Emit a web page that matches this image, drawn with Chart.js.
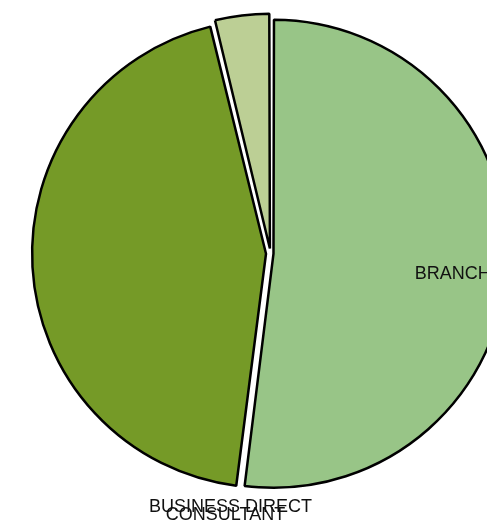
<!DOCTYPE html>
<html>
<head>
<meta charset="utf-8">
<script src="https://cdn.jsdelivr.net/npm/chart.js@4"></script>
<style>
html, body { margin: 0; padding: 0; background: #fff; overflow: hidden; }
#wrap { width: 541px; height: 527px; }
</style>
</head>
<body>
<div id="wrap"><canvas id="canvas" width="541" height="527"></canvas></div>
<script>
const channels = ['BRANCH', 'CONSULTANT', 'BUSINESS DIRECT'];
const shares = [52.0, 44.2, 3.8];
const sliceColors = ['#98c587', '#759a27', '#bccf95'];
const sliceOffsets = [12, 18, 20];

// labels: BRANCH sits inside its slice, the two others end up stacked under the pie
const sliceLabels = {
  id: 'sliceLabels',
  afterDraw(chart) {
    const ctx = chart.ctx;
    const arcs = chart.getDatasetMeta(0).data;
    ctx.save();
    ctx.font = '18px "Liberation Sans", Arial, sans-serif';
    ctx.fillStyle = '#111';
    ctx.textAlign = 'center';
    ctx.textBaseline = 'top';

    const a = arcs[0];
    const mid = (a.startAngle + a.endAngle) / 2;
    const d = a.outerRadius * 0.79;
    ctx.fillText(channels[0], a.x + Math.cos(mid) * d, a.y + Math.sin(mid) * d);

    const c = arcs[1];
    ctx.fillText(channels[2], c.x - 40, c.y + c.outerRadius + 14);
    ctx.fillText(channels[1], c.x - 45, c.y + c.outerRadius + 22);
    ctx.restore();
  }
};

new Chart(document.getElementById('canvas').getContext('2d'), {
  type: 'pie',
  data: {
    labels: channels,
    datasets: [{
      data: shares,
      backgroundColor: sliceColors,
      borderColor: '#000',
      borderWidth: 2.5,
      offset: sliceOffsets,
      radius: 231
    }]
  },
  options: {
    responsive: false,
    animation: false,
    layout: { padding: { bottom: 20 } },
    plugins: {
      legend: { display: false },
      tooltip: { enabled: false }
    }
  },
  plugins: [sliceLabels]
});
</script>
</body>
</html>
